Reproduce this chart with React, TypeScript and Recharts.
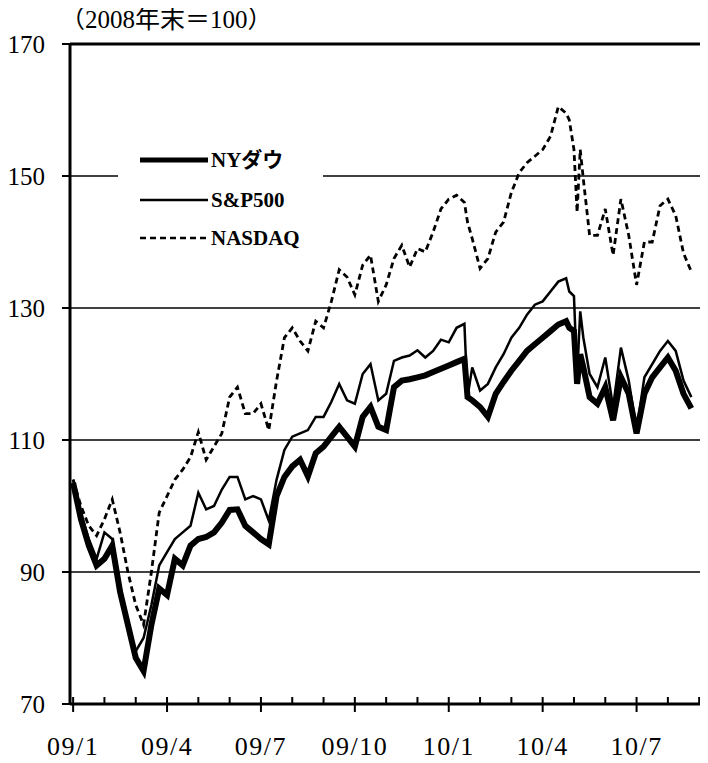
import React from "react";
import { LineChart, Line, XAxis, YAxis, CartesianGrid, ReferenceLine, Legend } from "recharts";

// months since 2009/1 (0 = 09/1)
const months = [
  0, 0.25, 0.5, 0.75, 1, 1.25, 1.5, 1.75, 2, 2.25, 2.5, 2.75, 3, 3.25, 3.5, 3.75,
  4, 4.25, 4.5, 4.75, 5, 5.25, 5.5, 5.75, 6, 6.25, 6.5, 6.75, 7, 7.25, 7.5, 7.75,
  8, 8.25, 8.5, 8.75, 9, 9.25, 9.5, 9.75, 10, 10.25, 10.5, 10.75, 11, 11.25, 11.5, 11.75,
  12, 12.25, 12.5, 12.6, 12.75, 13, 13.25, 13.5, 13.75, 14, 14.25, 14.5, 14.75, 15, 15.25, 15.5, 15.75, 15.85,
  16, 16.1, 16.2, 16.3, 16.5, 16.75, 17, 17.25, 17.5, 17.75, 18, 18.25, 18.5, 18.75, 19, 19.25, 19.5, 19.75,
];

const dow = [
  103.5, 98, 94, 91, 92, 94, 87, 82, 77, 75, 82, 87.5, 86.5, 92, 91, 94,
  95, 95.3, 96, 97.5, 99.4, 99.5, 97, 96, 95, 94.2, 101.5, 104.4, 106, 107, 104.5, 108,
  109, 110.5, 112, 110.5, 109, 113.5, 115, 112, 111.5, 118, 119, 119.2, 119.5, 119.8, 120.3, 120.8,
  121.3, 121.8, 122.3, 116.5, 116, 115, 113.5, 117, 118.8, 120.5, 122, 123.5, 124.5, 125.5, 126.5, 127.5, 128, 127,
  126.5, 118.5, 123, 121, 116.5, 115.5, 118, 113, 119.5, 117, 111, 117, 119.5, 121, 122.5, 120.5, 117, 114.8,
];

const sp500 = [
  104, 99, 95, 92, 96, 95, 88, 82, 78, 80, 85, 91, 93, 95, 96, 97,
  102, 99.5, 100, 102.5, 104.4, 104.4, 101, 101.5, 101, 97.8, 104, 108.5, 110.5, 111, 111.5, 113.5,
  113.5, 115.8, 118.5, 116, 115.5, 120, 121.5, 116, 117, 122, 122.5, 122.8, 123.6, 122.5, 123.5, 125.2,
  124.8, 127, 127.6, 116.5, 121, 117.5, 118.5, 121, 123, 125.5, 127, 129, 130.5, 131, 132.5, 134, 134.5, 132.5,
  131.8, 119.5, 129.5, 125.5, 120, 118, 122.5, 115, 124, 119, 111.5, 119.5, 121.5, 123.5, 125, 123.5, 119, 116.5,
];

const nasdaq = [
  104, 100, 97, 95.5, 98, 101, 96, 90, 85, 82, 90, 99, 101.5, 104, 105.5, 107.4,
  111.2, 107, 109, 111, 116.5, 118, 114, 114, 115.5, 111.5, 119, 125.5, 127, 125, 123.5, 128,
  127, 131, 135.8, 134.7, 132, 136.5, 138, 131, 133.5, 137.5, 139.5, 136.2, 139, 138.5, 141.5, 145,
  146.5, 147.1, 146, 143, 140.5, 136, 137.5, 141.5, 143, 147.5, 150.5, 152, 153, 154, 156, 160.5, 159.5, 158.5,
  154, 144.5, 154, 149.5, 141, 141, 145, 138, 146.5, 141, 133.5, 140, 140, 145.5, 146.5, 144, 138.3, 135.5,
];

const monthTicks = [0, 1, 2, 3, 4, 5, 6, 7, 8, 9, 10, 11, 12, 13, 14, 15, 16, 17, 18, 19, 20];
const quarterLabels: Record<number, string> = {
  0: "09/1", 3: "09/4", 6: "09/7", 9: "09/10", 12: "10/1", 15: "10/4", 18: "10/7",
};
const yTicks = [70, 90, 110, 130, 150, 170];

const chartData = months.map((m, i) => ({
  m,
  dow: dow[i],
  sp500: sp500[i],
  nasdaq: nasdaq[i],
}));

const FONT = "'Liberation Serif', 'DejaVu Serif', 'Times New Roman', serif";
const JP_FONT = `${FONT}, 'Noto Sans CJK JP'`;

const MonthTick = ({ x, y, payload }: any) => {
  const label = quarterLabels[payload.value];
  const major = label !== undefined;
  return (
    <g>
      <line x1={x} x2={x} y1={y - 7} y2={major ? y + 8 : y} stroke="#000" strokeWidth={2} />
      {major && (
        <text
          x={x}
          y={y + 51}
          textAnchor="middle"
          style={{ fontFamily: FONT, letterSpacing: 1.5 }}
          fontSize={26}
          fill="#000"
        >
          {label}
        </text>
      )}
    </g>
  );
};

const LegendBox = () => (
  <svg width={205} height={118} style={{ display: "block" }}>
    <line x1={22} x2={90} y1={22} y2={22} stroke="#000" strokeWidth={5} />
    <text x={93} y={22} dy="0.35em" style={{ fontFamily: JP_FONT, fontWeight: "bold" }} fontSize={21}>NYダウ</text>
    <line x1={22} x2={90} y1={62} y2={62} stroke="#000" strokeWidth={2.4} />
    <text x={93} y={62} dy="0.35em" style={{ fontFamily: FONT, fontWeight: "bold" }} fontSize={21}>S&amp;P500</text>
    <line x1={22} x2={90} y1={100} y2={100} stroke="#000" strokeWidth={2.5} strokeDasharray="6 4" />
    <text x={93} y={100} dy="0.35em" style={{ fontFamily: FONT, fontWeight: "bold" }} fontSize={21}>NASDAQ</text>
  </svg>
);

export default function App() {
  return (
    <div style={{ position: "relative", margin: -8, width: 708, height: 763, background: "#fff", fontFamily: FONT }}>
      <div
        style={{
          position: "absolute",
          left: 60,
          top: 7,
          fontFamily: JP_FONT,
          fontSize: 25,
          lineHeight: "25px",
          whiteSpace: "nowrap",
        }}
      >
        （2008年末＝100）
      </div>
      <LineChart width={708} height={763} data={chartData} margin={{ top: 44, right: 1, bottom: 29, left: 0 }}>
        <CartesianGrid horizontal vertical={false} stroke="#000" strokeWidth={1.5} />
        <XAxis
          dataKey="m"
          type="number"
          domain={[-0.1, 20.25]}
          ticks={monthTicks}
          interval={0}
          height={30}
          allowDataOverflow
          axisLine={{ stroke: "#000", strokeWidth: 3 }}
          tickLine={false}
          tickSize={0}
          tickMargin={0}
          tick={<MonthTick />}
        />
        <YAxis
          type="number"
          domain={[70, 170]}
          ticks={yTicks}
          interval={0}
          width={70}
          axisLine={{ stroke: "#000", strokeWidth: 3 }}
          tickLine={{ stroke: "#000", strokeWidth: 2 }}
          tickSize={8}
          tickMargin={17}
          tick={{ fontFamily: FONT, fontSize: 25, fill: "#000" }}
        />
        <ReferenceLine y={170} stroke="#000" strokeWidth={3} />
        <ReferenceLine x={20.25} stroke="#000" strokeWidth={1.5} />
        <Legend
          verticalAlign="middle"
          align="center"
          layout="horizontal"
          content={<LegendBox />}
          wrapperStyle={{ left: 118, top: 138, width: 205, height: 118, background: "#fff" }}
        />
        <Line type="linear" dataKey="nasdaq" stroke="#000" strokeWidth={2.8} strokeDasharray="6 4" dot={false} isAnimationActive={false} />
        <Line type="linear" dataKey="sp500" stroke="#000" strokeWidth={2.5} dot={false} isAnimationActive={false} />
        <Line type="linear" dataKey="dow" stroke="#000" strokeWidth={6} dot={false} isAnimationActive={false} />
      </LineChart>
    </div>
  );
}
